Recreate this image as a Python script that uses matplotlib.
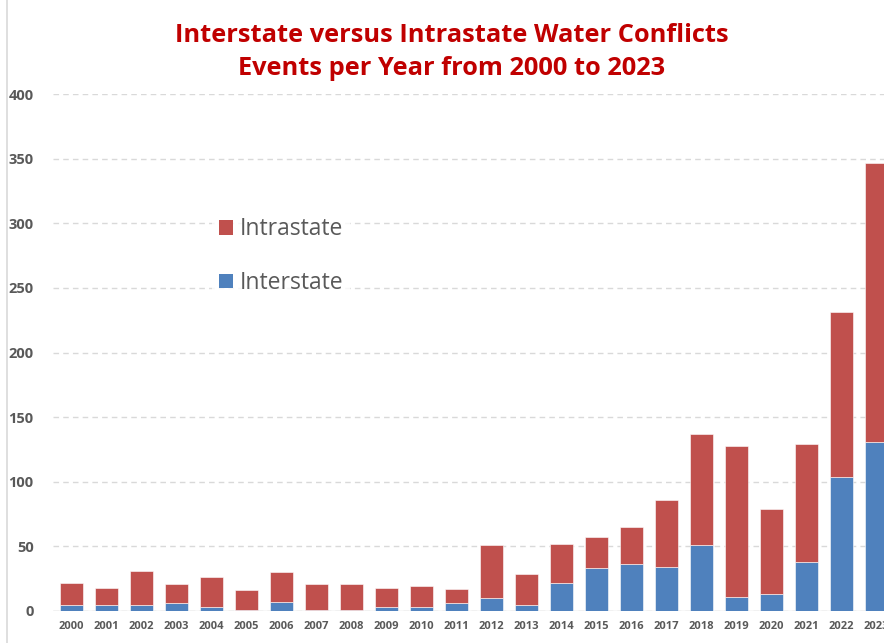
import matplotlib
matplotlib.use("Agg")
import matplotlib.pyplot as plt
from matplotlib.lines import Line2D
from matplotlib.patches import Patch

years = [str(y) for y in range(2000, 2024)]
interstate = [5, 5, 5, 6, 3, 1, 7, 1, 1, 3, 3, 6,
              10, 5, 22, 33, 36, 34, 51, 11, 13, 38, 104, 131]
totals = [22, 18, 31, 21, 26, 16, 30, 21, 21, 18, 19, 17,
          51, 29, 52, 57, 65, 86, 137, 128, 79, 129, 231, 347]
intrastate = [t - i for t, i in zip(totals, interstate)]

RED = "#C0504D"
BLUE = "#4F81BD"
GRAY = "#595959"

W, H = 884, 643
fig = plt.figure(figsize=(W / 100, H / 100), dpi=100)

# plot area placed in pixel terms; the right edge runs past the figure
left, right, bottom, top = 53, 894, 611, 94
ax = fig.add_axes([left / W, 1 - bottom / H, (right - left) / W, (bottom - top) / H])

x = range(len(years))
ax.bar(x, interstate, width=0.66, color=BLUE, edgecolor="white", linewidth=0.4, zorder=3)
ax.bar(x, intrastate, width=0.66, bottom=interstate, color=RED,
       edgecolor="white", linewidth=0.4, zorder=3)

ax.set_xlim(-0.53, 23.5)
ax.set_ylim(0, 400)
ax.set_yticks(range(0, 401, 50))
ax.set_xticks(list(x))
ax.set_xticklabels(years)

for s in ax.spines.values():
    s.set_visible(False)
ax.axhline(0, color="#d9d9d9", lw=1, zorder=2)
ax.grid(axis="y", color="#d9d9d9", ls=(0, (4, 3)), lw=1, zorder=0)
ax.tick_params(length=0)
ax.tick_params(axis="y", pad=14, labelsize=10.5, labelcolor=GRAY)
ax.tick_params(axis="x", pad=7, labelsize=8, labelcolor=GRAY)
for lbl in ax.get_yticklabels() + ax.get_xticklabels():
    lbl.set_fontfamily("Open Sans")
    lbl.set_fontweight("bold")

fig.text(452 / W, 1 - 52 / H,
         "Interstate versus Intrastate Water Conflicts\nEvents per Year from 2000 to 2023",
         ha="center", va="center", fontsize=18.3, fontweight="bold", color="#C00000",
         family="Open Sans", linespacing=1.4)

handles = [Patch(facecolor=RED, edgecolor="none"), Patch(facecolor=BLUE, edgecolor="none")]
leg = fig.legend(handles, ["Intrastate", "Interstate"], loc="upper left",
                 bbox_to_anchor=(201 / W, 1 - 199 / H), frameon=True,
                 prop={"family": "Open Sans", "size": 16.5}, labelcolor=GRAY,
                 handlelength=0.6, handleheight=0.6, handletextpad=0.3,
                 labelspacing=1.3, borderpad=0.3)
leg.get_frame().set_facecolor("white")
leg.get_frame().set_edgecolor("none")

fig.add_artist(Line2D([7 / W, 7 / W], [0, 1], color="#d9d9d9", lw=1.2))

fig.savefig("out.png", dpi=100)
